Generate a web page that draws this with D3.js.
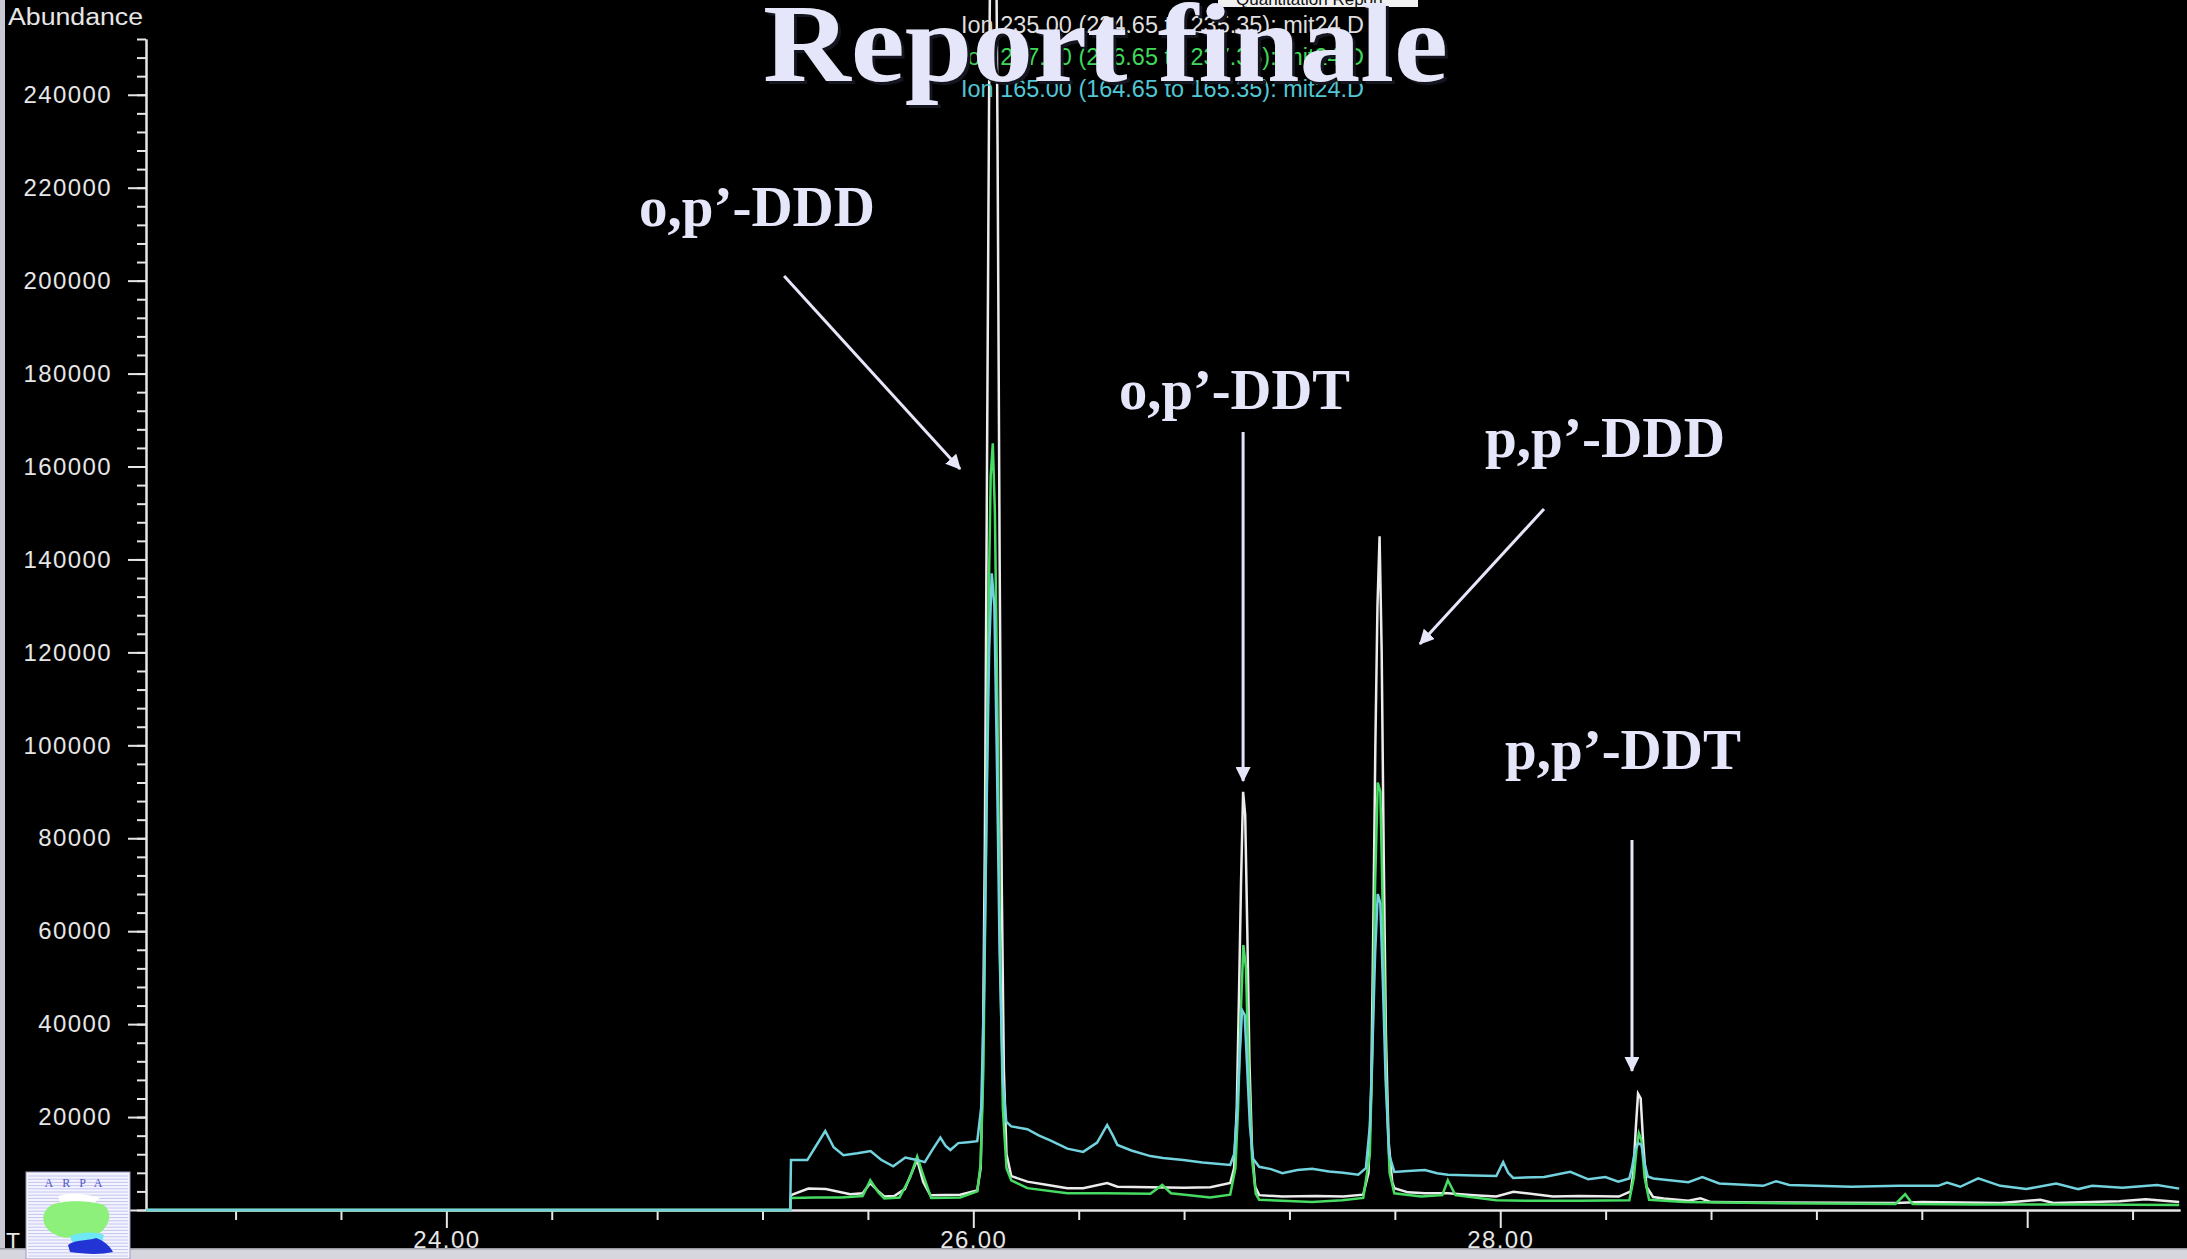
<!DOCTYPE html>
<html>
<head>
<meta charset="utf-8">
<script src="https://cdn.jsdelivr.net/npm/d3@7"></script>
<style>
  html, body { margin: 0; padding: 0; background: #000; overflow: hidden; }
  svg { display: block; }
</style>
</head>
<body>
<svg id="chart" width="2187" height="1259"></svg>
<script>
// ---- Extracted ion chromatograms: [retention time (min), abundance] ----
const ion235 = [
  [22.86, 0], [25.305, 0], [25.308, 3200], [25.374, 4600], [25.44, 4500], [25.533, 3400], [25.58, 3600],
  [25.609, 5800], [25.64, 4000], [25.662, 2900], [25.70, 3000], [25.74, 4500], [25.77, 8500], [25.787, 10800],
  [25.81, 6000], [25.837, 3200], [25.95, 3300], [26.015, 4200],
  [26.028, 9000], [26.036, 30000], [26.044, 80000], [26.052, 160000], [26.060, 240000], [26.068, 300000],
  [26.084, 300000], [26.092, 230000], [26.100, 140000], [26.108, 70000], [26.116, 30000], [26.126, 12000],
  [26.144, 7300], [26.205, 6100], [26.30, 5200], [26.357, 4700], [26.417, 4700], [26.508, 5800], [26.547, 5000],
  [26.672, 4900], [26.80, 4800], [26.90, 4900], [26.975, 5800],
  [26.990, 9000], [27.000, 22000], [27.008, 45000], [27.016, 70000], [27.024, 90000], [27.032, 85000],
  [27.040, 60000], [27.048, 32000], [27.058, 13000], [27.070, 5000], [27.085, 3200], [27.173, 2900],
  [27.30, 3000], [27.404, 2900], [27.48, 3300],
  [27.500, 8000], [27.510, 25000], [27.518, 60000], [27.526, 100000], [27.534, 130000], [27.542, 145000],
  [27.550, 120000], [27.558, 75000], [27.566, 38000], [27.576, 15000], [27.590, 6000], [27.598, 4700],
  [27.65, 3800], [27.714, 3600], [27.801, 3600], [27.90, 3200], [27.985, 2900], [28.05, 3900], [28.10, 3600],
  [28.20, 2900], [28.30, 3000], [28.45, 2900], [28.495, 4000],
  [28.505, 8000], [28.515, 18000], [28.523, 25000], [28.533, 24000], [28.543, 14000], [28.555, 5000],
  [28.58, 2800], [28.62, 2500], [28.714, 2000], [28.76, 2500], [28.80, 1700], [29.0, 1600], [29.5, 1500],
  [29.6, 1700], [29.9, 1500], [30.05, 2200], [30.1, 1500], [30.35, 1900], [30.45, 2300], [30.577, 1700]
];

const ion237 = [
  [22.86, 0], [25.305, 0], [25.308, 2600], [25.40, 2700], [25.50, 2700], [25.58, 3000], [25.609, 6400],
  [25.64, 3800], [25.662, 2500], [25.72, 2700], [25.76, 7000], [25.787, 11500], [25.81, 7500], [25.84, 2600],
  [25.95, 2700], [26.015, 4000],
  [26.028, 10000], [26.038, 30000], [26.048, 75000], [26.058, 130000], [26.066, 158000], [26.074, 165000],
  [26.082, 150000], [26.092, 105000], [26.102, 55000], [26.112, 22000], [26.126, 9000], [26.144, 6400],
  [26.205, 4700], [26.357, 3600], [26.50, 3600], [26.672, 3500], [26.717, 5400], [26.75, 3600],
  [26.899, 2700], [26.975, 3300],
  [26.995, 9000], [27.005, 22000], [27.015, 42000], [27.025, 57000], [27.035, 52000], [27.045, 30000],
  [27.058, 11000], [27.072, 3500], [27.085, 2200], [27.286, 1700], [27.40, 2100], [27.48, 2600],
  [27.505, 12000], [27.515, 35000], [27.525, 70000], [27.535, 92000], [27.545, 90000], [27.555, 62000],
  [27.567, 28000], [27.580, 8000], [27.598, 3600], [27.70, 2900], [27.78, 3200], [27.801, 6400],
  [27.83, 3200], [27.985, 2100], [28.10, 2000], [28.30, 2000], [28.49, 2100],
  [28.507, 7000], [28.517, 13000], [28.526, 16500], [28.536, 15000], [28.548, 7000], [28.565, 2200],
  [28.70, 1700], [29.0, 1500], [29.50, 1300], [29.537, 3400], [29.565, 1300], [29.8, 1200], [30.2, 1200],
  [30.577, 1100]
];

const ion165 = [
  [22.86, 0], [25.305, 0], [25.308, 10750], [25.37, 10750], [25.40, 13500], [25.438, 17000], [25.47, 13500],
  [25.507, 11800], [25.56, 12200], [25.61, 12700], [25.65, 10800], [25.696, 9400], [25.742, 11300],
  [25.79, 10700], [25.816, 10300], [25.845, 13000], [25.875, 15600], [25.895, 13800], [25.913, 12900],
  [25.943, 14400], [25.98, 14600], [26.015, 14800],
  [26.030, 22000], [26.040, 45000], [26.050, 85000], [26.060, 120000], [26.070, 137000], [26.080, 130000],
  [26.090, 95000], [26.100, 55000], [26.112, 28000], [26.125, 19000], [26.144, 18000], [26.205, 17400],
  [26.25, 16000], [26.292, 15000], [26.357, 13200], [26.417, 12500], [26.47, 14500], [26.508, 18300],
  [26.53, 16000], [26.547, 14000], [26.60, 12800], [26.672, 11600], [26.72, 11200], [26.797, 10750],
  [26.87, 10200], [26.975, 9700],
  [26.990, 12000], [27.000, 20000], [27.010, 32000], [27.020, 43000], [27.030, 42000], [27.040, 30000],
  [27.050, 18000], [27.062, 11000], [27.085, 9300], [27.13, 8800], [27.173, 7900], [27.23, 8600],
  [27.286, 8900], [27.35, 8300], [27.404, 8000], [27.461, 7600], [27.49, 9000],
  [27.505, 18000], [27.515, 35000], [27.525, 55000], [27.535, 68000], [27.545, 66000], [27.555, 48000],
  [27.565, 28000], [27.578, 12000], [27.598, 8200], [27.65, 8400], [27.714, 8600], [27.76, 7900],
  [27.801, 7600], [27.90, 7400], [27.985, 7300], [28.011, 10300], [28.03, 8000], [28.049, 6900],
  [28.167, 7100], [28.266, 8200], [28.334, 6600], [28.399, 7100], [28.448, 6100], [28.49, 6800],
  [28.500, 9000], [28.512, 13000], [28.524, 14400], [28.536, 14000], [28.548, 10000], [28.560, 7200],
  [28.581, 6800], [28.714, 6000], [28.767, 7100], [28.831, 5700], [28.998, 5200], [29.047, 6200],
  [29.097, 5400], [29.332, 5000], [29.514, 5200], [29.662, 5200], [29.696, 5900], [29.746, 5000],
  [29.814, 6800], [29.898, 5200], [29.996, 4500], [30.110, 5700], [30.194, 4500], [30.247, 5200],
  [30.361, 4800], [30.493, 5400], [30.577, 4600]
];

const traceNames = [
  "Ion 235.00 (234.65 to 235.35): mit24.D",
  "Ion 237.00 (236.65 to 237.35): mit24.D",
  "Ion 165.00 (164.65 to 165.35): mit24.D"
];

const yMajorTicks = [0, 20000, 40000, 60000, 80000, 100000, 120000, 140000, 160000, 180000, 200000, 220000, 240000];
const xMajorTicks = [24, 26, 28, 30];
const xTickLabels = ["24.00", "26.00", "28.00", ""];
const xMinorTicks = [23.2, 23.6, 24.4, 24.8, 25.2, 25.6, 26.4, 26.8, 27.2, 27.6, 28.4, 28.8, 29.2, 29.6, 30.4];

// Compound annotations: label, label anchor and arrow, all in (time, abundance) units
const peakNames = ["o,p’-DDD", "o,p’-DDT", "p,p’-DDD", "p,p’-DDT"];
const labelAt   = [[24.731, 211760], [26.553, 172380], [27.942, 162050], [28.018, 94900]];
const arrowFrom = [[25.282, 201000], [27.024, 167430], [28.166, 150860], [28.500, 79625]];
const arrowTo   = [[25.950, 159460], [27.024, 92320], [27.695, 121805], [28.500, 29913]];
const labelWidths = [236, 231, 240, 236];

// ---- Layout ----
const W = 2187, H = 1259;
const plot = { left: 146, right: 2180, top: 39, bottom: 1210 };
const traceColors = ["#ececec", "#46dc62", "#72d2de"];
const legendColors = ["#dedede", "#3fd85a", "#52c6d4"];
const annotColor = "#e6e6fa";

const svg = d3.select("#chart");

const x = d3.scaleLinear().domain([22.86, 30.58]).range([plot.left, plot.right]);
const y = d3.scaleLinear().domain([0, 252000]).range([plot.bottom, plot.top]);

svg.append("rect").attr("width", W).attr("height", H).attr("fill", "#000");

// ---- Axes ----
const axisColor = "#e6e6e6";
const axisFont = "'Liberation Sans', Arial, sans-serif";

function styleAxis(g) {
  g.selectAll("path.domain").attr("stroke", axisColor).attr("stroke-width", 2);
  g.selectAll(".tick line").attr("stroke", axisColor).attr("stroke-width", 2);
  g.selectAll(".tick text")
    .attr("fill", axisColor)
    .style("font-family", axisFont)
    .style("font-size", "24px")
    .style("letter-spacing", "1.4px");
}

// y minor ticks
svg.append("g")
  .attr("transform", `translate(${plot.left},0)`)
  .call(d3.axisLeft(y).tickValues(d3.range(0, 252001, 4000)).tickSize(9).tickSizeOuter(0).tickFormat(""))
  .call(styleAxis);

// y major ticks with labels
svg.append("g")
  .attr("transform", `translate(${plot.left},0)`)
  .call(d3.axisLeft(y).tickValues(yMajorTicks).tickSize(18).tickSizeOuter(0).tickPadding(16)
        .tickFormat(d3.format("d")))
  .call(styleAxis);

// x minor ticks
svg.append("g")
  .attr("transform", `translate(0,${plot.bottom})`)
  .call(d3.axisBottom(x).tickValues(xMinorTicks).tickSize(10).tickSizeOuter(0).tickFormat(""))
  .call(styleAxis);

// x major ticks with labels
svg.append("g")
  .attr("transform", `translate(0,${plot.bottom})`)
  .call(d3.axisBottom(x).tickValues(xMajorTicks).tickSize(18).tickSizeOuter(0).tickPadding(3)
        .tickFormat((d, i) => xTickLabels[i]))
  .call(styleAxis);

// axis titles
svg.append("text")
  .attr("x", 8).attr("y", 25)
  .attr("fill", axisColor)
  .style("font-family", axisFont).style("font-size", "23px")
  .attr("textLength", 135).attr("lengthAdjust", "spacingAndGlyphs")
  .text("Abundance");

svg.append("text")
  .attr("x", 6).attr("y", 1250)
  .attr("fill", axisColor)
  .style("font-family", axisFont).style("font-size", "23px")
  .text("T");

// ---- Traces ----
svg.append("clipPath").attr("id", "plotClip")
  .append("rect").attr("x", plot.left).attr("y", 0)
  .attr("width", plot.right - plot.left).attr("height", plot.bottom + 3);

const line = d3.line().x(d => x(d[0])).y(d => y(d[1])).curve(d3.curveLinear);

svg.append("g").attr("clip-path", "url(#plotClip)")
  .selectAll("path")
  .data([ion235, ion237, ion165])
  .join("path")
  .attr("d", line)
  .attr("fill", "none")
  .attr("stroke", (d, i) => traceColors[i])
  .attr("stroke-width", 2.5)
  .attr("stroke-linejoin", "miter");

// ---- Ion legend ----
svg.append("g")
  .selectAll("text")
  .data(traceNames)
  .join("text")
  .attr("x", 961)
  .attr("y", (d, i) => 33 + i * 32)
  .attr("fill", (d, i) => legendColors[i])
  .style("font-family", "'Liberation Sans Narrow', 'Liberation Sans', Arial, sans-serif")
  .style("font-size", "23px")
  .attr("textLength", 403).attr("lengthAdjust", "spacingAndGlyphs")
  .text(d => d);

// report header strip
svg.append("rect").attr("x", 1218).attr("y", 0).attr("width", 200).attr("height", 7).attr("fill", "#f0f0f0");
svg.append("text").attr("x", 1236).attr("y", 5).attr("fill", "#111")
  .style("font-family", axisFont).style("font-size", "17px")
  .text("Quantitation Report");

// ---- Title ----
const titleFont = "'Liberation Serif', 'Times New Roman', serif";
svg.append("text")
  .attr("x", 766).attr("y", 84)
  .attr("fill", "#15151f")
  .style("font-family", titleFont).style("font-weight", "bold").style("font-size", "112px")
  .attr("textLength", 685).attr("lengthAdjust", "spacingAndGlyphs")
  .text("Report finale");
svg.append("text")
  .attr("x", 763).attr("y", 81)
  .attr("fill", "#e6e6fa")
  .style("font-family", titleFont).style("font-weight", "bold").style("font-size", "112px")
  .attr("textLength", 685).attr("lengthAdjust", "spacingAndGlyphs")
  .text("Report finale");

// ---- Peak annotations ----
svg.append("defs").append("marker")
  .attr("id", "arrowHead")
  .attr("viewBox", "0 0 14 14")
  .attr("refX", 13).attr("refY", 7)
  .attr("markerWidth", 15).attr("markerHeight", 15)
  .attr("markerUnits", "userSpaceOnUse")
  .attr("orient", "auto")
  .append("path").attr("d", "M0,0 L14,7 L0,14 Z").attr("fill", annotColor);

const annot = svg.append("g");
annot.selectAll("line")
  .data(peakNames)
  .join("line")
  .attr("x1", (d, i) => x(arrowFrom[i][0])).attr("y1", (d, i) => y(arrowFrom[i][1]))
  .attr("x2", (d, i) => x(arrowTo[i][0])).attr("y2", (d, i) => y(arrowTo[i][1]))
  .attr("stroke", annotColor).attr("stroke-width", 3)
  .attr("marker-end", "url(#arrowHead)");

annot.selectAll("text")
  .data(peakNames)
  .join("text")
  .attr("x", (d, i) => x(labelAt[i][0]))
  .attr("y", (d, i) => y(labelAt[i][1]))
  .attr("fill", annotColor)
  .style("font-family", titleFont).style("font-weight", "bold").style("font-size", "58px")
  .attr("textLength", (d, i) => labelWidths[i]).attr("lengthAdjust", "spacingAndGlyphs")
  .text(d => d);

// ---- Window frame ----
svg.append("rect").attr("x", 0).attr("y", 0).attr("width", 5).attr("height", H).attr("fill", "#c9c9d3");
svg.append("rect").attr("x", 0).attr("y", 1248).attr("width", W).attr("height", 11).attr("fill", "#d6d6de");
svg.append("rect").attr("x", 0).attr("y", 1248).attr("width", W).attr("height", 1.5).attr("fill", "#9a9aa4");

// ---- Agency logo ----
const logo = svg.append("g");
logo.append("rect").attr("x", 26).attr("y", 1172).attr("width", 104).attr("height", 87)
  .attr("fill", "#f4f4ff").attr("stroke", "#9a9ac0").attr("stroke-width", 1);
logo.selectAll("line.stripe")
  .data(d3.range(1176, 1259, 3.2))
  .join("line").attr("class", "stripe")
  .attr("x1", 28).attr("x2", 128).attr("y1", d => d).attr("y2", d => d)
  .attr("stroke", "#c4c4ec").attr("stroke-width", 1);
logo.append("text").attr("x", 78).attr("y", 1187).attr("text-anchor", "middle")
  .attr("fill", "#5454c8").style("font-family", titleFont).style("font-size", "12px")
  .style("letter-spacing", "9px").text("ARPA");
logo.append("path")
  .attr("d", "M58,1196 C70,1192 88,1194 100,1198 L94,1203 L60,1203 Z")
  .attr("fill", "#ffffff");
logo.append("path")
  .attr("d", "M50,1206 C60,1200 88,1200 104,1205 C112,1212 110,1222 104,1229 C100,1236 86,1236 74,1237 C62,1240 47,1233 44,1223 C42,1215 45,1210 50,1206 Z")
  .attr("fill", "#8cf07a");
logo.append("path")
  .attr("d", "M70,1236 C80,1232 96,1231 104,1235 L102,1242 L72,1242 Z")
  .attr("fill", "#6ee8f4");
logo.append("path")
  .attr("d", "M68,1245 C76,1239 88,1241 96,1238 C103,1240 110,1246 113,1252 C100,1255 84,1254 70,1252 Z")
  .attr("fill", "#2234d4");
</script>
</body>
</html>
